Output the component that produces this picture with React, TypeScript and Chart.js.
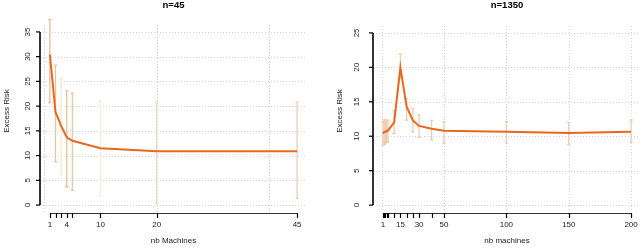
import React, { useEffect, useRef } from "react";
import { Chart, registerables } from "chart.js";

Chart.register(...registerables);

// ---------- data: left panel (n=45) ----------
const leftMachines = [1, 2, 3, 4, 5, 10, 20, 45];
const leftRisk = [30.4, 18.8, 16.0, 13.7, 13.0, 11.5, 10.9, 10.9];
const leftUpper = [37.5, 28.3, 25.6, 23.1, 22.6, 21.1, 20.8, 20.8];
const leftLower = [20.7, 8.8, 6.1, 3.7, 3.0, 1.8, 0.4, 1.35];
const leftYLimits = [0, 35];
const leftYTicks = [0, 5, 10, 15, 20, 25, 30, 35];
const leftXGrid = [0, 20, 40];
const leftXTickMarks = [1, 2, 3, 4, 5, 10, 20, 45];
const leftXTickLabels = [1, 4, 10, 20, 45];

// ---------- data: right panel (n=1350) ----------
const rightMachines = [1, 2, 3, 4, 5, 10, 15, 20, 25, 30, 40, 50, 100, 150, 200];
const rightRisk = [10.4, 10.6, 10.7, 10.7, 10.8, 12.0, 20.0, 14.3, 12.3, 11.5, 11.1, 10.8, 10.65, 10.45, 10.65];
const rightUpper = [12.1, 12.35, 12.4, 12.35, 12.3, 13.7, 21.9, 15.5, 14.05, 13.1, 12.3, 12.1, 12.1, 12.0, 12.35];
const rightLower = [8.7, 8.8, 9.0, 9.1, 9.2, 10.4, 18.4, 12.35, 10.65, 9.85, 9.45, 8.97, 9.0, 8.8, 9.1];
const rightYLimits = [0, 25];
const rightYTicks = [0, 5, 10, 15, 20, 25];
const rightXGrid = [0, 50, 100, 150, 200];
const rightXTickMarks = [1, 2, 3, 4, 5, 10, 15, 20, 25, 30, 40, 50, 100, 150, 200];
const rightXTickLabels = [1, 15, 30, 50, 100, 150, 200];

// ---------- styles ----------
const FONT = '"Liberation Sans", Arial, Helvetica, sans-serif';
const LINE_COLOR = "rgb(232,104,28)";
const leftBarColors = [
  "rgb(232,188,156)",
  "rgb(234,194,164)",
  "rgb(248,232,205)",
  "rgb(232,190,160)",
  "rgb(236,200,170)",
  "rgb(250,238,212)",
  "rgb(240,214,190)",
  "rgb(234,204,180)",
];
const rightBarColor = "rgb(238,204,176)";

type Panel = {
  title: string;
  xTitle: string;
  machines: number[];
  risk: number[];
  upper: number[];
  lower: number[];
  yLimits: number[];
  yTicks: number[];
  xGrid: number[];
  xTickMarks: number[];
  xTickLabels: number[];
  barColors: string[];
  width: number;
  padding: { left: number; right: number; top: number; bottom: number };
  yLabelOffset: number;
};

const rStylePlugin = {
  id: "rStyle",
  beforeDatasetsDraw(chart: any, _args: any, o: any) {
    const { ctx, chartArea, scales } = chart;
    const xs = scales.x;
    const ys = scales.y;
    ctx.save();
    // dotted grid
    ctx.strokeStyle = "rgb(215,215,215)";
    ctx.lineWidth = 1;
    ctx.setLineDash([1, 2]);
    for (const t of o.yTicks) {
      const py = Math.round(ys.getPixelForValue(t)) + 0.5;
      ctx.beginPath();
      ctx.moveTo(chartArea.left, py);
      ctx.lineTo(chartArea.right, py);
      ctx.stroke();
    }
    for (const t of o.xGrid) {
      const px = Math.round(xs.getPixelForValue(t)) + 0.5;
      ctx.beginPath();
      ctx.moveTo(px, chartArea.top);
      ctx.lineTo(px, chartArea.bottom);
      ctx.stroke();
    }
    ctx.setLineDash([]);
    // error bars
    ctx.lineWidth = 1.3;
    o.machines.forEach((m: number, i: number) => {
      const px = xs.getPixelForValue(m);
      const pTop = ys.getPixelForValue(o.upper[i]);
      const pBot = ys.getPixelForValue(o.lower[i]);
      ctx.strokeStyle = o.barColors[i % o.barColors.length];
      ctx.beginPath();
      ctx.moveTo(px, pTop);
      ctx.lineTo(px, pBot);
      ctx.moveTo(px - 1.6, pTop);
      ctx.lineTo(px + 1.6, pTop);
      ctx.moveTo(px - 1.6, pBot);
      ctx.lineTo(px + 1.6, pBot);
      ctx.stroke();
    });
    ctx.restore();
  },
  afterDraw(chart: any, _args: any, o: any) {
    const { ctx, chartArea, scales } = chart;
    const xs = scales.x;
    const ys = scales.y;
    ctx.save();
    ctx.fillStyle = "#222";
    ctx.font = `8px ${FONT}`;
    // y axis
    const ax = chartArea.left;
    const yFirst = ys.getPixelForValue(o.yTicks[0]);
    const yLast = ys.getPixelForValue(o.yTicks[o.yTicks.length - 1]);
    ctx.strokeStyle = "#000";
    ctx.lineWidth = 1.6;
    ctx.beginPath();
    ctx.moveTo(ax, yFirst);
    ctx.lineTo(ax, yLast);
    ctx.stroke();
    ctx.lineWidth = 1.2;
    for (const t of o.yTicks) {
      const py = ys.getPixelForValue(t);
      ctx.beginPath();
      ctx.moveTo(ax - 4, py);
      ctx.lineTo(ax, py);
      ctx.stroke();
      ctx.save();
      ctx.translate(ax - o.yLabelOffset, py);
      ctx.rotate(-Math.PI / 2);
      ctx.textAlign = "center";
      ctx.textBaseline = "middle";
      ctx.fillText(String(t), 0, 0);
      ctx.restore();
    }
    // y title
    ctx.save();
    ctx.translate(ax - 33, 111);
    ctx.rotate(-Math.PI / 2);
    ctx.textAlign = "center";
    ctx.textBaseline = "middle";
    ctx.fillText("Excess Risk", 0, 0);
    ctx.restore();
    // x axis
    const ay = chartArea.bottom + 1;
    const xFirst = xs.getPixelForValue(o.xTickMarks[0]);
    const xLast = xs.getPixelForValue(o.xTickMarks[o.xTickMarks.length - 1]);
    ctx.strokeStyle = "#333";
    ctx.lineWidth = 1;
    ctx.beginPath();
    ctx.moveTo(xFirst, ay + 0.5);
    ctx.lineTo(xLast, ay + 0.5);
    ctx.stroke();
    ctx.lineWidth = 1.2;
    ctx.strokeStyle = "#000";
    for (const t of o.xTickMarks) {
      const px = Math.round(xs.getPixelForValue(t)) + 0.5;
      ctx.beginPath();
      ctx.moveTo(px, ay);
      ctx.lineTo(px, ay + 5);
      ctx.stroke();
    }
    ctx.textAlign = "center";
    ctx.textBaseline = "middle";
    for (const t of o.xTickLabels) {
      ctx.fillText(String(t), xs.getPixelForValue(t), ay + 11.5);
    }
    const cx = (chartArea.left + chartArea.right) / 2;
    ctx.fillText(o.xTitle, cx, ay + 28);
    // main title
    ctx.font = `bold 9.5px ${FONT}`;
    ctx.fillStyle = "#000";
    ctx.fillText(o.title, cx, 5);
    ctx.restore();
  },
};

function PanelChart({ p }: { p: Panel }) {
  const ref = useRef<HTMLCanvasElement | null>(null);
  useEffect(() => {
    if (!ref.current) return;
    const xMin = Math.min(...p.machines);
    const xMax = Math.max(...p.machines);
    const xExt = (xMax - xMin) * 0.04;
    const yExt = (p.yLimits[1] - p.yLimits[0]) * 0.04;
    const chart = new Chart(ref.current, {
      type: "line",
      data: {
        datasets: [
          {
            data: p.machines.map((m, i) => ({ x: m, y: p.risk[i] })),
            borderColor: LINE_COLOR,
            borderWidth: 2,
            pointRadius: 0,
            tension: 0,
            fill: false,
            clip: false as any,
          },
        ],
      },
      options: {
        animation: false,
        responsive: false,
        maintainAspectRatio: false,
        devicePixelRatio: 1,
        layout: { padding: p.padding },
        scales: {
          x: { type: "linear", display: false, min: xMin - xExt, max: xMax + xExt },
          y: { type: "linear", display: false, min: p.yLimits[0] - yExt, max: p.yLimits[1] + yExt },
        },
        plugins: {
          legend: { display: false },
          tooltip: { enabled: false },
          rStyle: p as any,
        } as any,
      },
      plugins: [rStylePlugin],
    });
    return () => chart.destroy();
  }, [p]);
  return (
    <canvas
      ref={ref}
      width={p.width}
      height={249}
      style={{ display: "block", width: p.width, height: 249 }}
    />
  );
}

const leftPanel: Panel = {
  title: "n=45",
  xTitle: "nb Machines",
  machines: leftMachines,
  risk: leftRisk,
  upper: leftUpper,
  lower: leftLower,
  yLimits: leftYLimits,
  yTicks: leftYTicks,
  xGrid: leftXGrid,
  xTickMarks: leftXTickMarks,
  xTickLabels: leftXTickLabels,
  barColors: leftBarColors,
  width: 320,
  padding: { left: 40, right: 13, top: 25, bottom: 37 },
  yLabelOffset: 12,
};

const rightPanel: Panel = {
  title: "n=1350",
  xTitle: "nb machines",
  machines: rightMachines,
  risk: rightRisk,
  upper: rightUpper,
  lower: rightLower,
  yLimits: rightYLimits,
  yTicks: rightYTicks,
  xGrid: rightXGrid,
  xTickMarks: rightXTickMarks,
  xTickLabels: rightXTickLabels,
  barColors: [rightBarColor],
  width: 322,
  padding: { left: 53, right: 1, top: 26, bottom: 37 },
  yLabelOffset: 16,
};

export default function App() {
  return (
    <div
      style={{
        position: "fixed",
        left: 0,
        top: 0,
        width: 640,
        height: 249,
        overflow: "hidden",
        background: "#fff",
        display: "flex",
      }}
    >
      <div style={{ width: 320, height: 249, flex: "none" }}>
        <PanelChart p={leftPanel} />
      </div>
      <div style={{ width: 322, height: 249, flex: "none" }}>
        <PanelChart p={rightPanel} />
      </div>
    </div>
  );
}
